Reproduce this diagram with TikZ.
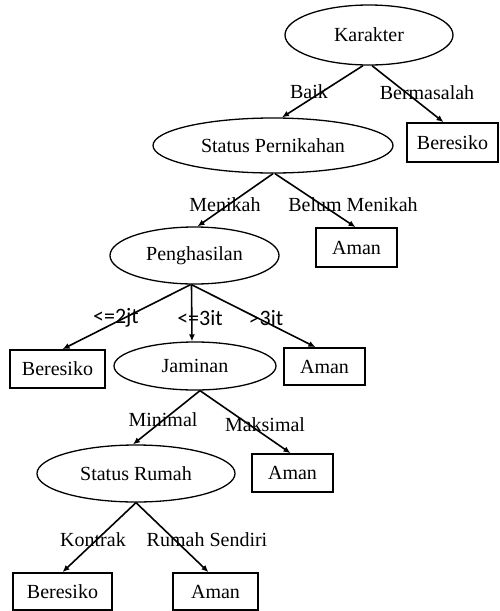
\documentclass[tikz,border=0pt]{standalone}
\usepackage{fontspec}
\setmainfont{Liberation Serif}
\newfontfamily\lblsans{Carlito}
\usetikzlibrary{shapes.geometric,arrows.meta}
\tikzset{
  decision/.style={draw,ellipse,line width=1.3pt,inner sep=0pt,font=\fontsize{20}{22}\selectfont},
  leafbox/.style={draw,rectangle,line width=1.7pt,inner sep=0pt,font=\fontsize{20}{22}\selectfont},
  edge/.style={line width=1.6pt,-{Latex[length=7pt,width=6pt]}},
  elabel/.style={inner sep=0pt,font=\fontsize{20}{22}\selectfont},
  slabel/.style={inner sep=0pt,font=\lblsans\fontsize{22}{24}\selectfont}
}
\begin{document}
\begin{tikzpicture}[x=1pt,y=-1pt]
\useasboundingbox (0,0) rectangle (499,611);
% decision nodes
\node[decision,minimum width=168pt,minimum height=60pt] (K) at (369,35) {Karakter};
\node[decision,minimum width=240pt,minimum height=55pt] (SP) at (273,145.5) {Status Pernikahan};
\node[decision,minimum width=169pt,minimum height=57pt] (PH) at (194.5,255.5) {Penghasilan};
\node[decision,minimum width=162pt,minimum height=48pt] (J) at (195,366) {Jaminan};
\node[decision,minimum width=198pt,minimum height=57pt] (SR) at (136,473.5) {Status Rumah};
% leaves
\node[leafbox,minimum width=91pt,minimum height=39pt] (B1) at (452.5,142.5) {Beresiko};
\node[leafbox,minimum width=81pt,minimum height=39pt] (A1) at (356.5,247.5) {Aman};
\node[leafbox,minimum width=95pt,minimum height=38pt] (B2) at (57.5,369) {Beresiko};
\node[leafbox,minimum width=81pt,minimum height=37pt] (A2) at (324.5,366.5) {Aman};
\node[leafbox,minimum width=81pt,minimum height=38pt] (A3) at (292.5,473) {Aman};
\node[leafbox,minimum width=99pt,minimum height=37pt] (B3) at (62.5,591.5) {Beresiko};
\node[leafbox,minimum width=85pt,minimum height=37pt] (A4) at (215.5,591.5) {Aman};
% connectors
\draw[edge] ([xshift=-6pt]K.south) -- ([xshift=9pt]SP.north);
\draw[edge] ([xshift=3pt]K.south) -- ([xshift=-9pt]B1.north);
\draw[edge] (SP.south) -- ([xshift=3pt]PH.north);
\draw[edge] ([xshift=2pt]SP.south) -- ([xshift=-1pt]A1.north);
\draw[edge] ([xshift=-4pt]PH.south) -- ([xshift=5pt]B2.north);
\draw[edge] ([xshift=-3pt]PH.south) -- ([xshift=-3pt]J.north);
\draw[edge] ([xshift=-3pt]PH.south) -- ([xshift=-9pt]A2.north);
\draw[edge] ([xshift=5pt]J.south) -- ([xshift=-3pt]SR.north);
\draw[edge] ([xshift=5pt]J.south) -- ([xshift=-2pt]A3.north);
\draw[edge] (SR.south) -- (B3.north);
\draw[edge] (SR.south) -- ([xshift=-7pt]A4.north);
% edge labels
\node[elabel] (lBaik) at (309,92) {Baik};
\node[elabel] (lBerm) at (427,93) {Bermasalah};
\node[elabel] (lMen) at (225,205) {Menikah};
\node[elabel] (lBel) at (353,205) {Belum Menikah};
\node[slabel] (l2) at (116,318) {<=2jt};
\node[slabel] (l3) at (200,318) {<=3it};
\node[slabel] (l4) at (266,318) {>3it};
\node[elabel] (lMin) at (163,420) {Minimal};
\node[elabel] (lMak) at (265,425) {Maksimal};
\node[elabel] (lKon) at (93,540) {Kontrak};
\node[elabel] (lRum) at (207,540) {Rumah Sendiri};
\end{tikzpicture}
\end{document}
